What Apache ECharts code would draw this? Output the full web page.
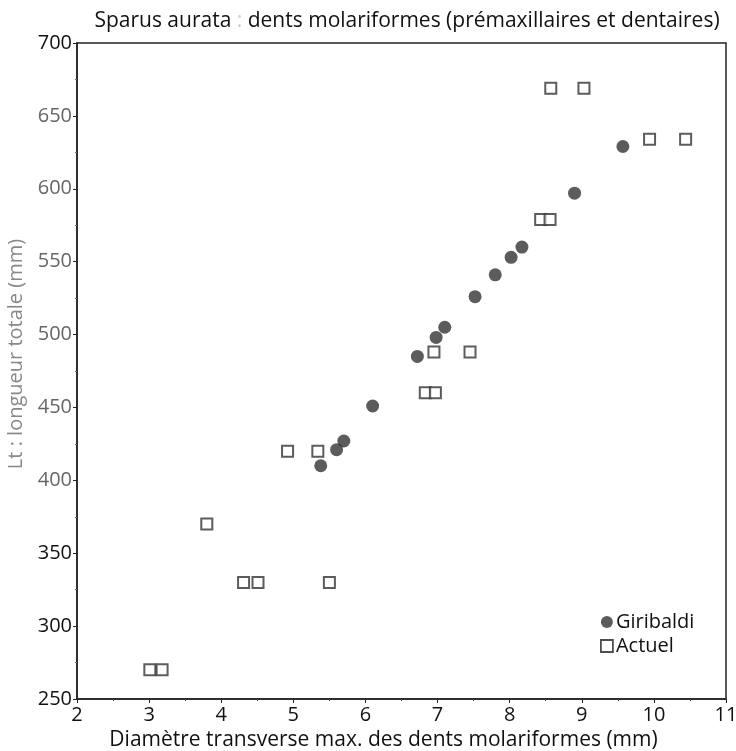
<!DOCTYPE html>
<html>
<head>
<meta charset="utf-8">
<script src="https://cdn.jsdelivr.net/npm/echarts@6/dist/echarts.min.js"></script>
<style>
  html, body { margin: 0; padding: 0; background: #fff; }
  #chart { width: 736px; height: 751px; }
</style>
</head>
<body>
<div id="chart"></div>
<script>
const myChart = echarts.init(document.getElementById("chart"));

// Giribaldi (filled circles)
const giribaldiX = [5.38, 5.6, 5.7, 6.1, 6.72, 6.98, 7.1, 7.52, 7.8, 8.02, 8.17, 8.9, 9.57];
const giribaldiY = [410, 421, 427, 451, 485, 498, 505, 526, 541, 553, 560, 597, 629];

// Actuel (hollow squares)
const actuelX = [3.01, 3.18, 3.8, 4.31, 4.51, 5.5, 4.92, 5.34, 6.83, 6.97, 6.95, 7.45, 8.43, 8.56, 8.57, 9.03, 9.94, 10.44];
const actuelY = [270, 270, 370, 330, 330, 330, 420, 420, 460, 460, 488, 488, 579, 579, 669, 669, 634, 634];

const fadedTicks = [400, 450, 500, 550, 600, 650];

const toPairs = (xs, ys) => xs.map((x, i) => [x, ys[i]]);

const font = "Open Sans";

const option = {
    animation: false,
    textStyle: {
        fontFamily: font
    },
    title: {
        text: "Sparus aurata {c|:} dents molariformes (prémaxillaires et dentaires)",
        left: 402,
        top: 6,
        textAlign: "center",
        textStyle: {
            fontFamily: font,
            fontSize: 21,
            fontWeight: "normal",
            color: "#111",
            rich: {
                c: {
                    fontFamily: font,
                    fontSize: 21,
                    color: "#ccc"
                }
            }
        }
    },
    grid: {
        left: 77,
        right: 10,
        top: 43,
        bottom: 52,
        containLabel: false,
        outerBoundsMode: "none",
        show: true,
        borderColor: "#222",
        borderWidth: 1.5
    },
    legend: {
        orient: "vertical",
        left: 595,
        top: 607,
        itemWidth: 12,
        itemHeight: 12,
        itemGap: 4,
        textStyle: {
            fontFamily: font,
            fontSize: 20,
            color: "#111",
            padding: [0, 0, 0, -2]
        },
        data: [
            {name: "Giribaldi", icon: "circle"},
            {name: "Actuel", icon: "path://M1,1H9V9H1Z", itemStyle: {color: "#fff", borderColor: "#222", borderWidth: 1.8}}
        ]
    },
    xAxis: {
        type: "value",
        min: 2,
        max: 11,
        interval: 1,
        name: "Diamètre transverse max. des dents molariformes (mm)",
        nameLocation: "middle",
        nameGap: 29,
        nameTextStyle: {
            fontFamily: font,
            fontSize: 21,
            color: "#111",
            padding: [0, 36, 0, 0]
        },
        splitLine: {show: false},
        axisLine: {show: true, onZero: false, lineStyle: {color: "#222", width: 1.5}},
        axisTick: {show: true, length: 4, lineStyle: {color: "#222"}},
        minorTick: {show: true, splitNumber: 2, length: 2, lineStyle: {color: "#444"}},
        axisLabel: {
            fontFamily: font,
            fontSize: 20,
            color: "#111",
            margin: 6
        }
    },
    yAxis: {
        type: "value",
        min: 250,
        max: 700,
        interval: 50,
        name: "Lt : longueur totale (mm)",
        nameLocation: "middle",
        nameGap: 46,
        nameTextStyle: {
            fontFamily: font,
            fontSize: 20,
            color: "#888",
            padding: [0, 0, 0, 34]
        },
        splitLine: {show: false},
        axisLine: {show: true, onZero: false, lineStyle: {color: "#222", width: 1.5}},
        axisTick: {show: true, length: 4, lineStyle: {color: "#222"}},
        minorTick: {show: true, splitNumber: 2, length: 2, lineStyle: {color: "#666"}},
        axisLabel: {
            fontFamily: font,
            fontSize: 20,
            margin: 5,
            color: function(value) {
                return fadedTicks.indexOf(Number(value)) >= 0 ? "#666" : "#111";
            }
        }
    },
    series: [
        {
            name: "Giribaldi",
            type: "scatter",
            symbol: "circle",
            symbolSize: 13,
            itemStyle: {color: "#333"},
            data: toPairs(giribaldiX, giribaldiY)
        },
        {
            name: "Actuel",
            type: "scatter",
            symbol: "rect",
            symbolSize: 11,
            itemStyle: {color: "#fff", borderColor: "#333", borderWidth: 2},
            data: toPairs(actuelX, actuelY)
        }
    ]
};

myChart.setOption(option);
</script>
</body>
</html>
